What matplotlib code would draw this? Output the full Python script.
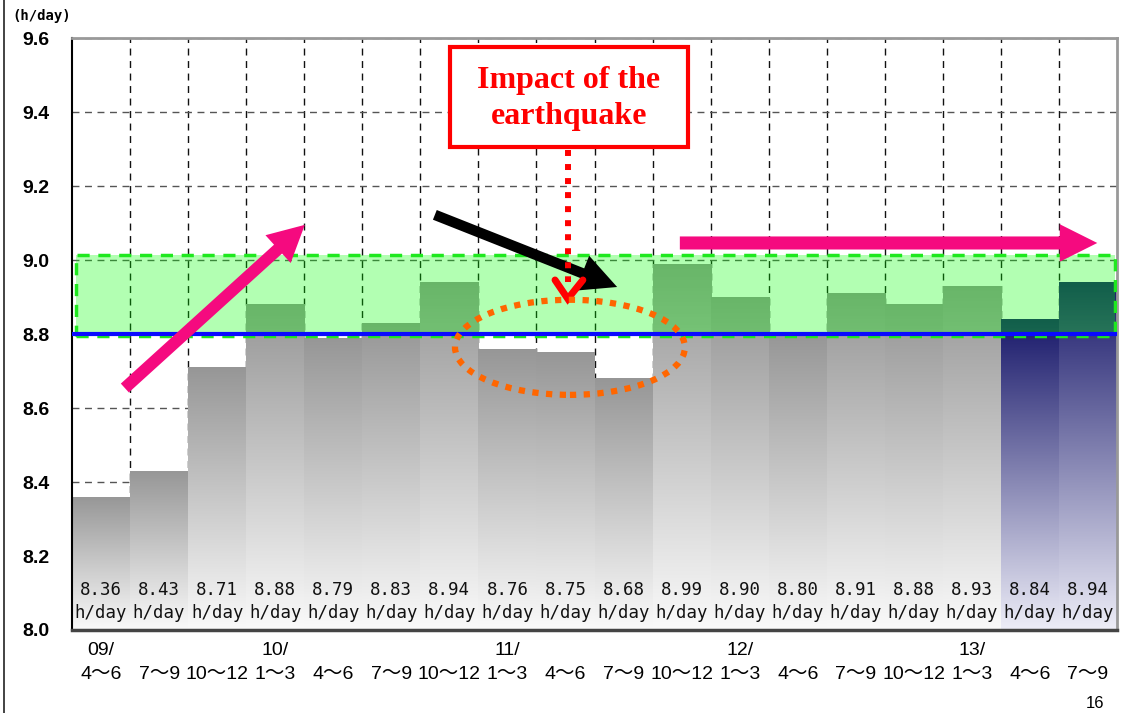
import numpy as np
import matplotlib.pyplot as plt
from matplotlib.patches import Rectangle, Ellipse
from matplotlib.lines import Line2D

# quarterly average hours per day
years = ['09/', '', '', '10/', '', '', '', '11/', '', '', '', '12/', '', '', '', '13/', '', '']
quarters = ['4〜6', '7〜9', '10〜12', '1〜3', '4〜6', '7〜9', '10〜12', '1〜3', '4〜6',
            '7〜9', '10〜12', '1〜3', '4〜6', '7〜9', '10〜12', '1〜3', '4〜6', '7〜9']
hours = [8.36, 8.43, 8.71, 8.88, 8.79, 8.83, 8.94, 8.76, 8.75,
         8.68, 8.99, 8.90, 8.80, 8.91, 8.88, 8.93, 8.84, 8.94]
recent_from = 16          # last quarters drawn in navy
target_low, target_high = 8.795, 9.014
base_line = 8.80
y_min, y_max = 8.0, 9.6

pink = '#f50a7f'
x = np.arange(len(hours))

fig = plt.figure(figsize=(11.23, 7.13), dpi=100)
ax = fig.add_axes([72 / 1123, 83 / 713, 1045 / 1123, 592 / 713])
ax.set_xlim(-0.5, len(hours) - 0.5)
ax.set_ylim(y_min, y_max)

# grid: horizontal at every 0.2, vertical between the bars
ax.set_yticks(np.arange(8.0, 9.61, 0.2))
ax.set_yticklabels([f'{v:.1f}' for v in np.arange(8.0, 9.61, 0.2)],
                   fontsize=14, fontweight='bold', family='Liberation Sans')
ax.set_xticks(x)
ax.set_xticks(x[:-1] + 0.5, minor=True)
ax.set_xticklabels([])
ax.yaxis.grid(True, color='#555555', lw=1, linestyle=(0, (5, 4)), zorder=0)
ax.xaxis.grid(True, which='minor', color='#111111', lw=1, linestyle=(0, (5, 4)), zorder=0)
ax.set_axisbelow(True)
ax.tick_params(axis='y', length=0, pad=16)
ax.tick_params(axis='x', which='both', direction='in', length=5, color='#444444')

for side in ('top', 'right'):
    ax.spines[side].set_color('#999999')
    ax.spines[side].set_linewidth(2)
ax.spines['left'].set_linewidth(1.5)
ax.spines['bottom'].set_color('#444444')
ax.spines['bottom'].set_linewidth(2.5)

# bars with a vertical fade to white
bars = ax.bar(x, np.array(hours) - y_min, bottom=y_min, width=1.0, color='none', zorder=2)
for i, b in enumerate(bars):
    if i >= recent_from:
        top, bot = np.array([0.10, 0.10, 0.42]), np.array([0.93, 0.93, 0.97])
    else:
        top, bot = np.array([0.59, 0.59, 0.59]), np.array([0.98, 0.98, 0.98])
    t = np.linspace(0, 1, 256)[:, None, None]
    grad = top + (bot - top) * t
    x0, w, h = b.get_x(), b.get_width(), b.get_height()
    im = ax.imshow(grad, extent=[x0, x0 + w, y_min, y_min + h], aspect='auto',
                   origin='upper', zorder=2, interpolation='bilinear')
    im.set_clip_path(b)

# value labels inside the bars
for xi, v in zip(x, hours):
    ax.text(xi, 8.107, f'{v:.2f}', ha='center', va='center', fontsize=12.5,
            family='DejaVu Sans Mono', color='#111111', zorder=4)
    ax.text(xi, 8.046, 'h/day', ha='center', va='center', fontsize=12.5,
            family='DejaVu Sans Mono', color='#111111', zorder=4)

# quarter and year labels below the axis
lab_font = ['Liberation Sans', 'Noto Sans CJK JP']
for xi, q, yr in zip(x, quarters, years):
    ax.text(xi, -0.076, q, transform=ax.get_xaxis_transform(), ha='center', va='center',
            fontsize=14, family=lab_font, clip_on=False)
    if yr:
        ax.text(xi, -0.034, yr, transform=ax.get_xaxis_transform(), ha='center', va='center',
                fontsize=14, family=lab_font, clip_on=False)

# target band
x_lo, x_hi = -0.43, len(hours) - 0.54
ax.add_patch(Rectangle((x_lo, target_low), x_hi - x_lo, target_high - target_low,
                       facecolor=(0, 1, 0), alpha=0.3, edgecolor='none', zorder=3))
ax.add_patch(Rectangle((x_lo, target_low), x_hi - x_lo, target_high - target_low,
                       facecolor='none', edgecolor='#1fe81f', lw=2.5,
                       linestyle=(0, (3.5, 2.5)), zorder=4))
ax.axhline(base_line, color='#0a0aff', lw=3, zorder=5)

# trend arrows
def arrow(tail, tip, color, tail_w, head_w, head_l):
    style = f'simple,head_length={head_l},head_width={head_w},tail_width={tail_w}'
    ax.annotate('', xy=tip, xytext=tail, zorder=6,
                arrowprops=dict(arrowstyle=style, mutation_scale=1, color=color,
                                lw=0, shrinkA=0, shrinkB=0))

arrow((0.41, 8.654), (3.51, 9.095), pink, 8.6, 27, 26)
arrow((9.97, 9.046), (17.16, 9.046), pink, 9.4, 27, 27)
arrow((5.75, 9.122), (8.89, 8.927), 'black', 7.5, 27, 27)

# earthquake note
ax.add_patch(Rectangle((6.01, 9.305), 4.10, 0.271, facecolor='white', edgecolor='#ff0000',
                       lw=3, zorder=6))
ax.text(8.06, 9.437, 'Impact of the\nearthquake', ha='center', va='center', fontsize=23,
        family='Liberation Serif', fontweight='bold', color='#ff0000', zorder=7,
        linespacing=1.3)
ax.plot([8.04, 8.04], [9.297, 8.94], color='#ff0000', lw=4.3,
        linestyle=(0, (1, 1.35)), dash_capstyle='butt', zorder=6)
ax.plot([7.82, 8.04, 8.30], [8.946, 8.895, 8.946], color='#ff0000', lw=5,
        solid_capstyle='round', solid_joinstyle='miter', zorder=6)
ax.add_patch(Ellipse((8.077, 8.764), 3.96, 0.257, fill=False, edgecolor='#ff6600',
                     lw=4.5, linestyle=(0, (1, 1.2)), zorder=6))

# unit and page furniture
fig.text(12 / 1123, 1 - 16 / 713, '(h/day)', fontsize=10, family='DejaVu Sans Mono',
         fontweight='bold', va='center', ha='left')
fig.text(1095 / 1123, 1 - 703 / 713, '16', fontsize=12, family='Liberation Sans',
         ha='center', va='center')
fig.add_artist(Line2D([4 / 1123, 4 / 1123], [0, 1], color='#222222', lw=1.2,
                      transform=fig.transFigure))

fig.savefig('out.png', dpi=100)
